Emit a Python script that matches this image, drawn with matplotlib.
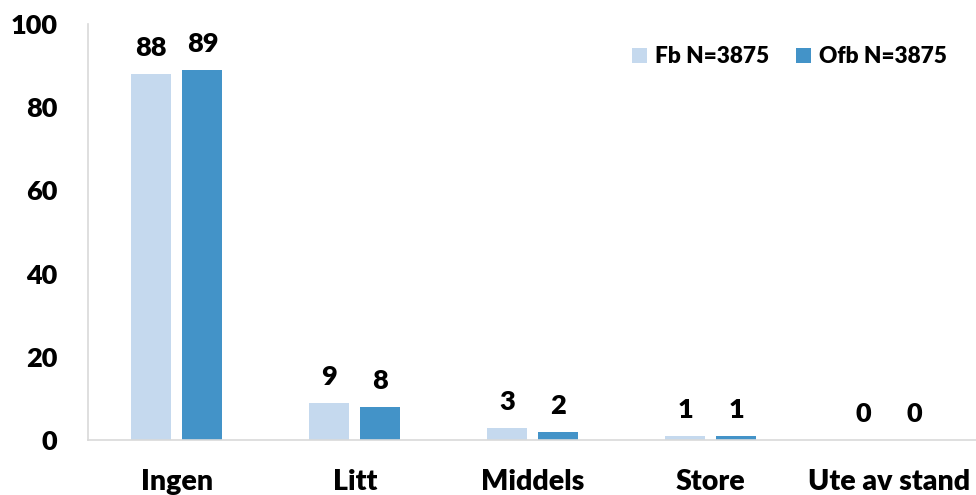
import numpy as np
import matplotlib.pyplot as plt

categories = ["Ingen", "Litt", "Middels", "Store", "Ute av stand"]
fb = [88, 9, 3, 1, 0]
ofb = [89, 8, 2, 1, 0]
series_names = ["Fb N=3875", "Ofb N=3875"]

plt.rcParams['font.family'] = ['Lato', 'DejaVu Sans']
plt.rcParams['font.weight'] = 'heavy'

fig = plt.figure(figsize=(9.76, 4.95), dpi=100)
ax = fig.add_axes([0.09, 0.111, 0.912, 0.8405])

x = np.arange(len(categories))
w = 0.225
gap = 0.031
b1 = ax.bar(x - w / 2 - gap, fb, w, color='#c5d9ee', label=series_names[0])
b2 = ax.bar(x + w / 2 + gap, ofb, w, color='#4393c8', label=series_names[1])

for bars in (b1, b2):
    for rect in bars:
        h = rect.get_height()
        ax.text(rect.get_x() + rect.get_width() / 2, h + 3.3, f"{h:.0f}",
                ha='center', va='bottom', fontsize=19.5, fontweight='heavy')

ax.set_xlim(-0.5, len(categories) - 0.5)
ax.set_ylim(0, 100)
ax.set_yticks(range(0, 101, 20))
ax.set_xticks(x)
ax.set_xticklabels(categories)
ax.tick_params(axis='y', length=0, labelsize=19.5, pad=22)
ax.tick_params(axis='x', length=0, labelsize=20.5, pad=21)
for lab in ax.get_xticklabels() + ax.get_yticklabels():
    lab.set_fontweight('heavy')

for s in ['top', 'right']:
    ax.spines[s].set_visible(False)
for s in ['left', 'bottom']:
    ax.spines[s].set_color('#d9d9d9')
    ax.spines[s].set_linewidth(1.2)

fig.legend(loc='center', bbox_to_anchor=(0.809, 0.885), ncol=2, frameon=False,
           handlelength=0.65, handleheight=0.65, handletextpad=0.35, columnspacing=1.2,
           prop={'size': 16.3, 'weight': 'heavy'})

fig.savefig('out.png', dpi=100)
